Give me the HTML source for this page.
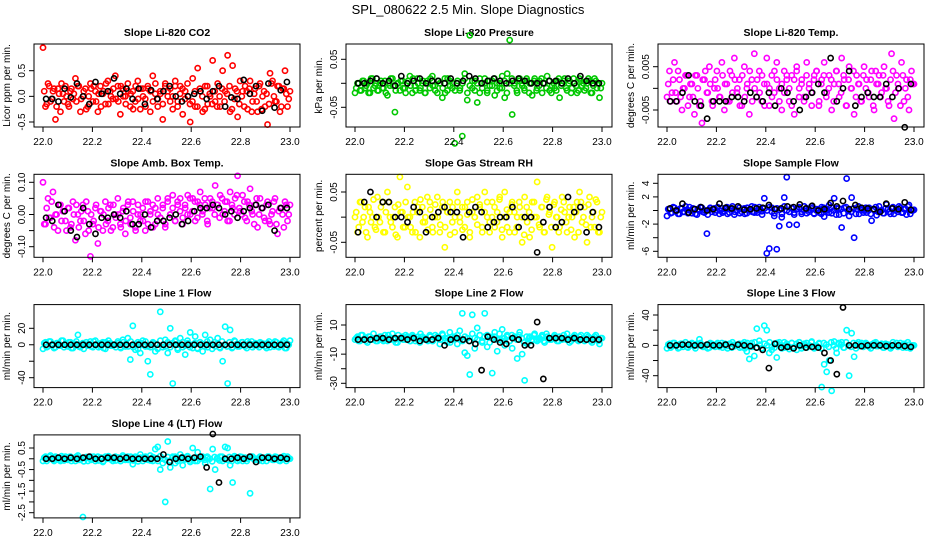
<!DOCTYPE html>
<html><head><meta charset="utf-8"><style>
html,body{margin:0;padding:0;background:#fff;}
svg{display:block;font-family:"Liberation Sans",sans-serif;}
</style></head><body>
<svg id="chart" width="936" height="540" viewBox="0 0 936 540">
<text x="468" y="14" text-anchor="middle" font-size="13">SPL_080622  2.5 Min. Slope Diagnostics</text>
</svg>
<script>
const xTicks = [22.0, 22.2, 22.4, 22.6, 22.8, 23.0];
const xTickLabels = ["22.0","22.2","22.4","22.6","22.8","23.0"];

const co2Color = [0.95,-0.2,0.25,-0.1,0.1,-0.45,0.15,-0.3,0.05,0.2,
-0.15,0.1,-0.05,0.35,0.2,-0.3,0.0,0.15,-0.2,0.25,
-0.1,0.1,-0.3,0.2,0.05,-0.15,0.3,0.1,-0.05,0.4,
0.2,-0.35,0.15,0.0,0.25,-0.2,0.1,-0.1,0.3,-0.25,
0.15,-0.05,0.2,-0.3,0.4,0.05,-0.2,0.1,-0.45,0.25,
0.0,0.15,-0.25,0.3,-0.1,0.2,-0.35,0.1,0.0,-0.5,
0.35,-0.2,0.55,0.1,-0.3,0.2,-0.15,0.0,0.7,-0.1,
0.25,-0.2,0.5,0.1,0.8,-0.3,0.6,0.15,-0.4,0.3,
0.1,0.2,-0.25,0.3,-0.1,0.15,-0.3,0.25,0.0,-0.2,
-0.55,0.45,0.3,-0.1,0.2,-0.3,0.15,0.5,-0.2,0.1];
const co2Core = [0.1,-0.15,0.2,-0.05,0.15,-0.2,0.05,0.25,-0.1,0.0,-0.2,0.15,0.05,-0.1,0.2,-0.05,0.1,-0.25,0.0,0.15,0.2,-0.1,0.05,-0.2,0.1,0.25,-0.15,0.0,0.15,-0.05,-0.1,0.2,0.0,-0.15,0.1,0.05,-0.25,0.2,-0.05,0.15,0.0,-0.2,0.15,0.1,-0.1,0.25,-0.05,0.05,-0.15,0.2,0.1,-0.1,0.0,0.2,-0.2,0.05,0.15,-0.05,0.25,-0.15,-0.1,0.1,-0.2,0.15,0.0,-0.25,0.2,0.05,-0.15,0.1,-0.2,0.0,0.15,-0.1,0.05,0.2,-0.25,-0.05,0.1,-0.15,0.0,-0.2,0.1,0.15,-0.3,0.05,-0.1,0.2,-0.25,0.1,0.05,-0.15,0.25,0.0,-0.1,0.2,-0.2,0.15,0.05,-0.05];
const co2Black = [-0.05,-0.05,-0.1,0.15,-0.02,0.25,0.0,-0.15,0.28,0.05,0.1,0.35,0.05,0.15,-0.05,0.15,-0.15,0.12,-0.05,0.1,0.2,0.0,-0.1,0.0,0.05,0.1,-0.05,0.1,0.2,-0.2,-0.02,-0.05,0.32,0.05,0.2,-0.28,0.25,-0.22,0.12,0.28];

const pressColor = [-0.02,0.0,-0.015,0.005,-0.01,0.0,-0.02,0.01,-0.005,-0.015,
0.0,-0.01,0.005,-0.025,-0.005,0.01,-0.06,0.0,-0.015,0.005,
-0.01,0.0,0.015,-0.02,-0.005,0.01,-0.015,0.0,-0.02,0.005,
-0.01,0.015,-0.005,-0.02,0.0,-0.03,0.01,-0.015,0.005,-0.01,
-0.125,0.0,-0.015,-0.11,0.02,-0.035,0.1,-0.01,0.005,-0.04,
-0.02,0.0,0.01,-0.015,-0.005,0.005,-0.025,0.0,-0.01,0.015,
-0.03,0.02,0.09,-0.065,0.0,-0.02,0.01,-0.005,-0.015,0.005,
0.0,-0.025,0.01,-0.01,0.005,-0.02,0.0,0.015,-0.015,-0.005,
-0.01,0.005,-0.03,0.0,0.01,-0.015,0.005,-0.01,0.0,-0.02,
0.01,-0.005,-0.015,0.0,0.005,-0.02,0.01,-0.01,-0.03,0.0];
const pressCore = [-0.01,0.0,-0.015,0.005,-0.005,-0.02,0.01,-0.01,0.0,-0.015,0.005,-0.01,-0.02,0.0,0.01,-0.005,-0.015,0.0,0.005,-0.01,-0.02,0.005,-0.005,0.01,-0.015,0.0,-0.01,0.005,-0.02,0.0,0.01,-0.005,-0.015,0.005,0.0,-0.01,-0.02,0.01,-0.005,0.0,-0.015,0.005,-0.01,0.0,0.01,-0.02,-0.005,0.005,-0.015,0.0,0.01,-0.01,0.0,-0.02,0.005,-0.005,0.01,-0.015,0.0,-0.01,0.005,-0.02,0.0,0.01,-0.005,-0.015,0.005,0.0,-0.01,0.01,-0.02,0.0,0.005,-0.015,-0.005,0.01,0.0,-0.01,0.005,-0.02,0.0,-0.015,0.01,-0.005,0.005,-0.01,0.0,-0.02,0.01,-0.005,-0.015,0.005,0.0,-0.01,0.01,-0.02,-0.005,0.005,0.0,-0.01];
const pressBlack = [0.0,0.0,0.005,0.01,0.0,0.005,-0.005,0.015,0.0,0.005,0.01,0.0,0.005,0.005,0.0,0.01,0.0,0.005,0.015,0.01,0.0,0.005,0.01,0.005,0.0,0.005,0.01,0.005,0.0,0.0,0.0,0.005,0.005,0.0,0.01,0.0,0.015,0.005,0.0,0.0];

const tempColor = [-0.002,0.004,-0.001,0.006,-0.003,0.002,-0.005,0.0,0.003,-0.002,
0.001,-0.006,0.003,-0.004,-0.008,0.002,-0.001,0.005,-0.003,0.0,
0.004,-0.002,0.006,-0.005,0.001,-0.003,0.003,0.007,-0.001,0.002,
-0.004,0.005,0.0,-0.006,0.002,0.008,-0.002,0.004,-0.003,0.001,
0.007,-0.004,0.003,-0.001,0.006,0.0,-0.005,0.004,0.002,-0.003,
0.003,-0.006,0.005,0.0,0.002,-0.002,0.006,0.001,-0.004,0.003,
0.004,-0.003,0.002,0.006,-0.001,0.003,-0.005,0.001,0.004,-0.002,
0.007,0.002,-0.004,0.005,0.0,-0.006,0.003,0.001,-0.003,0.005,
0.002,-0.002,0.004,-0.005,0.001,0.003,-0.001,0.005,0.0,-0.004,
0.008,-0.007,0.003,0.0,0.006,-0.003,0.002,-0.005,0.004,0.001];
const tempCore = [0.001,-0.003,0.002,-0.001,0.004,-0.002,0.0,0.003,-0.004,0.001,-0.002,0.003,0.0,-0.003,0.002,0.004,-0.001,0.001,-0.004,0.002,0.0,-0.002,0.003,0.001,-0.003,0.004,-0.001,0.002,0.0,-0.004,0.003,-0.002,0.001,0.004,-0.003,0.0,0.002,-0.001,0.003,-0.004,0.001,0.0,-0.002,0.004,0.002,-0.003,0.001,-0.001,0.003,0.0,-0.004,0.002,0.004,-0.002,0.001,-0.003,0.003,0.0,-0.001,0.002,0.004,-0.004,0.001,0.003,-0.002,0.0,0.002,-0.003,0.004,0.001,-0.001,0.003,-0.004,0.002,0.0,0.004,-0.002,0.001,-0.003,0.003,0.0,-0.001,0.002,-0.004,0.004,0.001,-0.002,0.003,0.0,-0.003,0.002,0.004,-0.001,0.001,-0.004,0.003,0.0,-0.002,0.002,0.001];
const tempBlack = [-0.003,-0.003,-0.001,0.003,-0.003,-0.004,-0.007,-0.003,-0.003,-0.003,-0.002,-0.002,-0.003,-0.001,-0.002,-0.003,-0.001,-0.004,0.0,-0.001,-0.003,-0.005,-0.002,-0.001,0.001,-0.001,0.007,-0.003,0.0,0.004,-0.004,-0.002,-0.001,-0.002,-0.002,0.001,-0.002,0.0,-0.009,0.001];

const ambColor = [0.1,-0.03,0.05,-0.01,0.07,0.0,-0.05,0.03,0.01,-0.02,
0.02,-0.04,0.04,-0.08,0.0,-0.02,0.03,-0.06,0.01,-0.13,
-0.03,0.02,-0.09,0.01,-0.05,0.04,-0.02,0.03,-0.04,0.0,
0.05,-0.03,0.01,-0.06,0.03,-0.01,0.04,-0.04,0.0,-0.02,
0.02,-0.05,0.04,0.0,0.03,-0.03,0.05,-0.01,0.02,-0.04,
0.04,0.0,0.06,-0.02,0.03,0.05,-0.01,0.02,0.06,0.0,
0.05,-0.02,0.04,0.07,0.01,0.03,-0.03,0.05,0.02,0.09,
0.03,0.06,0.0,0.04,-0.02,0.07,0.02,0.05,0.12,0.01,
0.06,-0.01,0.04,0.08,0.0,0.03,-0.04,0.05,0.02,-0.02,
0.04,-0.03,0.01,0.05,-0.06,0.02,0.0,0.04,-0.02,0.03];
const ambCore = [-0.03,0.02,-0.01,0.04,-0.04,0.0,0.03,-0.02,0.01,-0.05,0.02,-0.03,0.0,0.03,-0.04,0.01,-0.02,0.04,-0.05,0.0,-0.02,0.03,-0.04,0.01,0.0,-0.03,0.02,-0.05,0.03,-0.01,0.0,-0.04,0.02,-0.02,0.04,-0.03,0.01,-0.05,0.03,0.0,-0.02,0.04,-0.03,0.01,-0.04,0.02,0.0,-0.01,0.03,-0.03,0.05,0.0,0.02,-0.02,0.04,0.01,-0.03,0.03,0.0,0.05,0.01,0.04,-0.01,0.03,0.0,0.05,-0.02,0.02,0.04,0.0,0.03,-0.01,0.05,0.01,0.04,-0.02,0.03,0.0,0.06,0.02,0.0,0.04,-0.02,0.03,0.01,-0.03,0.05,0.0,0.02,-0.01,0.03,-0.02,0.0,0.04,-0.03,0.01,0.02,-0.04,0.03,0.0];
const ambBlack = [-0.01,-0.02,0.03,0.01,-0.05,-0.07,0.02,-0.03,-0.06,-0.01,-0.01,0.0,-0.01,0.01,-0.03,-0.03,0.0,-0.04,-0.02,-0.02,-0.01,0.0,-0.03,-0.02,0.01,0.02,0.02,0.03,0.02,0.0,0.01,-0.01,0.01,0.02,0.03,0.02,0.03,-0.05,0.02,0.02];

const rhColor = [0.0,-0.03,0.03,-0.01,0.02,-0.04,0.01,0.0,-0.02,0.04,
-0.01,0.03,-0.03,0.05,0.0,-0.02,0.02,-0.04,0.08,0.01,
-0.02,0.06,0.0,-0.03,0.03,0.01,-0.04,0.02,-0.01,0.04,
0.03,-0.02,0.0,0.04,-0.03,0.02,-0.06,0.01,0.03,-0.01,
-0.03,0.05,0.0,0.02,-0.02,0.03,-0.04,0.01,0.0,0.04,
0.02,-0.03,0.05,0.0,-0.01,0.03,-0.02,0.01,0.04,-0.04,
0.05,-0.02,0.01,0.03,-0.03,0.0,0.02,-0.05,0.04,-0.01,
-0.04,0.03,0.0,0.07,-0.02,0.02,-0.03,0.04,0.01,-0.06,
0.03,0.0,-0.02,0.04,0.01,-0.03,0.02,0.0,-0.04,0.03,
0.05,-0.01,0.02,-0.05,0.04,0.0,-0.02,0.03,-0.03,0.01];
const rhCore = [0.01,-0.02,0.03,0.0,-0.03,0.02,-0.01,0.035,-0.025,0.0,0.02,-0.03,0.01,0.03,-0.01,0.0,-0.035,0.025,0.01,-0.02,0.03,0.0,-0.02,0.01,-0.03,0.02,0.035,-0.01,0.0,-0.025,0.015,-0.03,0.025,0.0,-0.015,0.03,-0.02,0.01,-0.035,0.02,0.0,0.03,-0.01,-0.025,0.02,0.005,-0.03,0.035,0.0,-0.015,0.025,-0.02,0.01,0.03,-0.03,0.0,0.02,-0.01,0.035,-0.025,0.0,0.015,-0.03,0.025,0.01,-0.02,0.03,0.0,-0.035,0.02,0.01,-0.025,0.03,0.0,-0.015,0.02,-0.03,0.035,0.005,-0.02,0.025,0.0,-0.03,0.015,0.03,-0.01,0.0,-0.025,0.02,0.01,-0.03,0.03,0.0,-0.015,0.025,-0.02,0.01,0.035,-0.03,0.0];
const rhBlack = [-0.03,0.03,0.05,0.0,0.03,0.03,0.0,0.0,-0.01,0.02,0.01,-0.03,0.0,0.01,0.02,0.01,0.01,-0.04,0.01,0.02,0.01,-0.02,-0.01,0.0,0.0,0.02,-0.02,0.0,0.0,-0.07,-0.01,0.02,-0.02,-0.01,0.04,0.01,0.02,-0.03,0.01,-0.02];

const sampleColor = [-0.8,0.2,-0.3,0.4,0.0,-0.5,0.3,-0.2,0.1,0.5,
-0.4,0.2,-0.6,0.0,0.4,-0.3,-3.4,0.1,-0.2,0.3,
0.0,-0.5,0.3,-0.1,0.5,-0.3,0.2,-0.6,0.0,0.4,
-0.2,0.3,-0.4,0.1,0.6,-0.3,0.0,0.5,-0.1,1.8,
-6.3,-5.6,0.4,-0.8,-5.7,-2.3,-1.0,1.9,4.9,-2.1,
0.3,-0.6,-2.1,0.4,-0.2,0.6,-0.4,0.1,0.3,-0.5,
0.2,-0.3,0.5,-0.9,0.0,0.8,-0.4,1.8,0.3,-0.6,
-2.5,0.4,4.7,-0.8,1.9,-4.0,0.2,-0.5,0.3,0.0,
-0.3,0.4,-1.5,0.1,-0.7,0.6,0.0,-0.4,0.9,-0.2,
0.3,-0.5,0.1,0.6,-0.3,0.2,-0.6,0.8,0.0,0.1];
const sampleCore = [0.2,-0.4,0.5,0.0,-0.5,0.3,-0.2,0.6,-0.4,0.0,0.3,-0.5,0.2,0.5,-0.2,0.0,-0.6,0.4,0.2,-0.3,0.5,0.0,-0.3,0.2,-0.5,0.3,0.6,-0.2,0.0,-0.4,0.2,-0.5,0.4,0.0,-0.2,0.5,-0.3,0.2,-0.6,0.3,0.0,0.5,-0.2,-0.4,0.3,0.1,-0.5,0.6,0.0,-0.2,0.4,-0.3,0.2,0.5,-0.5,0.0,0.3,-0.2,0.6,-0.4,0.0,0.2,-0.5,0.4,0.2,-0.3,0.5,0.0,-0.6,0.3,0.2,-0.4,0.5,0.0,-0.2,0.3,-0.5,0.6,0.1,-0.3,0.4,0.0,-0.5,0.2,0.5,-0.2,0.0,-0.4,0.3,0.2,-0.5,0.5,0.0,-0.2,0.4,-0.3,0.2,0.6,-0.5,0.0];
const sampleBlack = [0.3,0.0,1.0,-0.3,0.2,0.5,0.0,0.2,1.0,0.4,0.3,0.6,0.1,0.2,0.3,0.4,0.8,0.2,0.3,0.6,0.5,0.9,0.3,0.7,0.0,0.2,1.1,0.6,1.4,0.2,0.8,0.4,0.3,0.2,-0.2,1.0,0.3,0.2,1.2,0.1];

const line1Color = [-5,3,-2,4,0,-3,2,-1,5,0,
-2,3,-4,1,12,-3,2,0,-1,4,
-3,5,0,-2,3,-5,1,2,-1,0,
4,-3,6,-2,8,-18,23,-6,3,-10,
5,-2,-20,-36,2,-8,-5,40,-3,6,
-10,20,-47,5,-6,8,-3,-12,2,15,
-4,10,-5,3,-8,12,-3,6,0,-2,
8,-4,-20,22,-47,18,-3,4,-2,0,
3,-2,4,0,-3,2,-1,3,0,-2,
2,-3,1,4,-2,0,3,-4,1,5];
const line1Core = [2,-3,4,0,-4,2,-1,5,-3,0,3,-4,1,4,-2,0,-5,3,1,-2,4,0,-3,2,-4,3,5,-1,0,-3,2,-4,3,0,-2,4,-3,1,-5,2,0,4,-2,-3,3,1,-4,5,0,-2,3,-3,2,4,-4,0,3,-1,5,-3,0,2,-4,3,1,-2,4,0,-5,3,1,-3,4,0,-2,3,-4,5,1,-2,3,0,-4,2,4,-1,0,-3,2,1,-4,4,0,-2,3,-3,1,5,-4,0];
const line1Black = [0,0,0,0,0,0,0,0,0,0,0,0,0,0,0,0,0,0,0,0,0,0,0,0,0,0,0,0,0,0,0,0,0,0,0,0,0,0,0,0];

const line2Color = [0,2,-1,3,1,-2,2,0,1,-1,
2,0,3,-1,1,4,0,-2,1,2,
0,2,-1,3,1,0,-2,2,1,0,
3,-1,1,2,-3,4,1,-2,5,0,
2,-3,6,18,-9,-11,-24,17,-6,8,
3,-2,18,-5,2,-23,5,-8,0,7,
-4,3,-1,-6,2,-13,5,-10,-28,-3,
2,0,4,-1,1,3,-2,2,0,1,
3,-1,2,0,1,4,-2,1,3,0,
2,0,-1,3,1,-2,2,0,-3,1];
const line2Core = [1,-1,3,0,-1,2,0,4,-1,1,2,-1,1,3,0,1,-2,3,1,0,3,1,-1,2,-1,2,4,0,1,-1,2,-1,3,1,0,3,-1,1,-2,2,1,3,0,-1,2,1,-1,4,1,0,3,-1,2,3,-2,1,2,0,4,-1,1,2,-1,3,1,0,3,1,-2,2,1,-1,3,0,0,2,-1,4,1,0,2,1,-1,1,3,0,1,-1,2,1,-1,3,1,0,2,-1,1,3,-1,1];
const line2Black = [0,0,0,1,1,0,1,1,0,1,-1,0,0,1,-4,0,1,0,-1,-3,-21,2,0,-2,-3,1,0,-4,-4,12,-27,1,1,1,0,1,0,0,0,0];

const line3Color = [-4,2,-1,3,0,-3,2,1,-2,0,
3,-1,2,8,0,-2,1,-3,2,0,
1,-2,3,0,-1,2,-3,1,0,2,
-2,4,-8,-18,3,-14,22,6,-4,26,
20,-10,-6,2,-16,4,0,-3,2,-5,
3,-2,-6,4,-1,2,-3,0,5,-4,
-2,3,-55,-25,-35,-20,-60,5,-10,2,
4,-3,20,-40,16,-15,2,-1,3,0,
2,-2,1,3,-1,0,2,-3,1,0,
-2,1,3,-1,0,2,-3,1,-1,0];
const line3Core = [1,-3,3,0,-4,2,-2,4,-3,0,2,-4,1,3,-2,0,-4,3,1,-2,3,0,-3,2,-4,2,4,-1,0,-3,2,-4,3,0,-2,4,-3,1,-4,2,0,4,-2,-3,3,1,-4,4,0,-2,3,-3,2,4,-4,0,3,-1,4,-3,0,2,-4,3,1,-2,4,0,-4,3,1,-3,4,0,-2,3,-4,4,1,-2,3,0,-4,2,4,-1,0,-3,2,1,-4,4,0,-2,3,-3,1,4,-4,0];
const line3Black = [0,0,1,1,0,0,1,0,0,1,-2,1,0,-1,-3,-6,-30,2,-3,-2,-4,0,-3,-2,-3,-10,-20,-38,50,0,0,-1,0,0,0,-1,0,0,-1,-2];

const line4Color = [-0.1,0.1,0.0,0.15,-0.05,0.1,0.0,-0.1,0.05,0.1,
-0.05,0.1,0.0,-0.1,0.15,-0.05,-2.7,0.05,-0.1,0.1,
0.0,-0.1,0.1,0.05,-0.15,0.1,0.0,0.05,-0.1,0.1,
0.05,-0.1,0.15,-0.05,0.1,0.0,-0.25,0.1,0.0,0.2,
-0.1,0.05,0.0,0.15,-0.1,0.45,0.55,-0.5,-0.2,-2.0,
0.8,-0.4,0.1,-0.2,0.05,0.2,-0.3,0.0,0.1,-0.15,
0.5,-0.1,0.3,0.0,0.1,-0.2,0.05,-1.4,0.45,-0.5,
0.0,0.1,-0.1,0.55,0.5,-0.3,-1.1,0.05,-0.1,0.1,
-0.1,0.05,0.0,-1.6,0.1,-0.05,0.0,0.1,-0.1,0.05,
0.1,0.0,-0.05,0.1,0.0,-0.1,0.05,0.0,0.1,0.0];
const line4Core = [0.05,-0.1,0.1,0.0,-0.1,0.05,-0.05,0.12,-0.08,0.0,0.08,-0.1,0.03,0.1,-0.05,0.0,-0.12,0.08,0.03,-0.05,0.1,0.0,-0.08,0.05,-0.1,0.06,0.12,-0.03,0.0,-0.08,0.05,-0.1,0.08,0.0,-0.05,0.1,-0.08,0.03,-0.12,0.05,0.0,0.1,-0.05,-0.08,0.08,0.03,-0.1,0.12,0.0,-0.05,0.08,-0.08,0.05,0.1,-0.1,0.0,0.08,-0.03,0.12,-0.08,0.0,0.05,-0.1,0.08,0.03,-0.05,0.1,0.0,-0.12,0.08,0.03,-0.08,0.1,0.0,-0.05,0.08,-0.1,0.12,0.03,-0.05,0.08,0.0,-0.1,0.05,0.1,-0.03,0.0,-0.08,0.05,0.03,-0.1,0.1,0.0,-0.05,0.08,-0.08,0.03,0.12,-0.1,0.0];
const line4Black = [0.0,0.0,0.05,0.0,0.05,0.0,0.05,0.1,0.0,0.0,0.05,0.05,0.0,0.05,0.0,0.0,0.0,0.0,0.0,0.2,-0.15,0.0,0.05,0.0,0.05,0.1,-0.4,1.15,-1.1,0.0,0.0,0.05,0.0,0.1,-0.15,0.05,0.05,0.0,0.05,0.0];

const co2Ticks=[-0.5,0,0.5], co2Labels=["-0.5","0.0","0.5"];
const pressTicks=[-0.05,0,0.05], pressLabels=["-0.05","","0.05"];
const tempTicks=[-0.005,0,0.005], tempLabels=["-0.005","","0.005"];
const ambTicks=[-0.1,-0.05,0,0.05,0.1], ambLabels=["-0.10","","0.00","","0.10"];
const rhTicks=[-0.05,0,0.05], rhLabels=["-0.05","","0.05"];
const sampleTicks=[-6,-4,-2,0,2,4], sampleLabels=["-6","","-2","","2","4"];
const line1Ticks=[-40,-20,0,20], line1Labels=["-40","","0","20"];
const line2Ticks=[-30,-20,-10,0,10], line2Labels=["-30","","-10","","10"];
const line3Ticks=[-40,-20,0,20,40], line3Labels=["-40","","0","","40"];
const line4Ticks=[-2.5,-2,-1.5,-1,-0.5,0,0.5], line4Labels=["-2.5","","-1.5","","-0.5","","0.5"];

const NS="http://www.w3.org/2000/svg";
const svg=document.getElementById('chart');
function mk(tag,attrs,parent){const e=document.createElementNS(NS,tag);for(const k in attrs)e.setAttribute(k,attrs[k]);(parent||svg).appendChild(e);return e;}

function panel(cfg){
  const L=34+cfg.col*312, R=L+266, T=44+cfg.row*130.3, B=T+83;
  const x0=L+9, x1=L+256;
  const xs=v=>x0+(v-22)*(x1-x0);
  const ys=v=>cfg.py1+(v-cfg.v1)*(cfg.py2-cfg.py1)/(cfg.v2-cfg.v1);
  const g=mk('g',{});
  
  
  const t=mk('text',{x:(L+R)/2,y:T-8,'text-anchor':'middle','font-size':10.5,'font-weight':'bold'},g);
  t.textContent=cfg.title;
  
  
  const pts=mk('g',{fill:'none','stroke-width':1.6},g);
  
  
  const k=cfg.core.length;
  cfg.core.forEach((v,i)=>{
    const c=mk('circle',{cx:xs(22.005+i*(0.99/(k-1))),cy:ys(v),r:2.6,stroke:cfg.fill},pts);
    
    
  });
  const n=cfg.color.length;
  cfg.color.forEach((v,i)=>{
    const c=mk('circle',{cx:xs(22+i*(1/(n-1))),cy:ys(v),r:2.6,stroke:cfg.fill},pts);
    
    
  });
  const m=cfg.black.length;
  cfg.black.forEach((v,i)=>{
    const c=mk('circle',{cx:xs(22.0125+i*(0.975/(m-1))),cy:ys(v),r:2.6,stroke:'#000'},pts);
    
    
  });
  const box=mk('rect',{x:L,y:T,width:R-L,height:B-T,fill:'none',stroke:'#000','stroke-width':1},g);
  
  
  xTicks.forEach((v,i)=>{
    mk('line',{x1:xs(v),x2:xs(v),y1:B,y2:B+5,stroke:'#000'},g);
    const l=mk('text',{x:xs(v),y:B+18,'text-anchor':'middle','font-size':10},g);
    l.textContent=xTickLabels[i];
    
    
  });
  cfg.ticks.forEach((v,i)=>{
    const y=ys(v);
    mk('line',{x1:L-5,x2:L,y1:y,y2:y,stroke:'#000'},g);
    if(cfg.labels[i]){
      const l=mk('text',{x:L-9,y:y,'text-anchor':'middle','font-size':10,transform:`rotate(-90 ${L-9} ${y})`},g);
      l.textContent=cfg.labels[i];
      
      
    }
  });
  const yl=mk('text',{x:L-24,y:(T+B)/2,'text-anchor':'middle','font-size':10,transform:`rotate(-90 ${L-24} ${(T+B)/2})`},g);
  yl.textContent=cfg.ylab;
  
  
}

panel({name:'panel-co2',title:'Slope Li-820 CO2',ylab:'Licor ppm per min.',col:0,row:0,fill:'#ff0000',color:co2Color,core:co2Core,black:co2Black,ticks:co2Ticks,labels:co2Labels,v1:0.5,py1:70.7,v2:-0.5,py2:122});
panel({name:'panel-pressure',title:'Slope Li-820 Pressure',ylab:'kPa per min.',col:1,row:0,fill:'#00c800',color:pressColor,core:pressCore,black:pressBlack,ticks:pressTicks,labels:pressLabels,v1:0.05,py1:59.3,v2:-0.05,py2:107.3});
panel({name:'panel-temp',title:'Slope Li-820 Temp.',ylab:'degrees C per min.',col:2,row:0,fill:'#ff00ff',color:tempColor,core:tempCore,black:tempBlack,ticks:tempTicks,labels:tempLabels,v1:0.005,py1:66.7,v2:-0.005,py2:110});
panel({name:'panel-amb-box-temp',title:'Slope Amb. Box Temp.',ylab:'degrees C per min.',col:0,row:1,fill:'#ff00ff',color:ambColor,core:ambCore,black:ambBlack,ticks:ambTicks,labels:ambLabels,v1:0.1,py1:182.3,v2:-0.1,py2:246.7});
panel({name:'panel-gas-rh',title:'Slope Gas Stream RH',ylab:'percent per min.',col:1,row:1,fill:'#ffff00',color:rhColor,core:rhCore,black:rhBlack,ticks:rhTicks,labels:rhLabels,v1:0.05,py1:192,v2:-0.05,py2:242.3});
panel({name:'panel-sample-flow',title:'Slope Sample Flow',ylab:'ml/min per min.',col:2,row:1,fill:'#0000ff',color:sampleColor,core:sampleCore,black:sampleBlack,ticks:sampleTicks,labels:sampleLabels,v1:4,py1:183.3,v2:-6,py2:251.3});
panel({name:'panel-line1-flow',title:'Slope Line 1 Flow',ylab:'ml/min per min.',col:0,row:2,fill:'#00ffff',color:line1Color,core:line1Core,black:line1Black,ticks:line1Ticks,labels:line1Labels,v1:20,py1:328.3,v2:-40,py2:377.7});
panel({name:'panel-line2-flow',title:'Slope Line 2 Flow',ylab:'ml/min per min.',col:1,row:2,fill:'#00ffff',color:line2Color,core:line2Core,black:line2Black,ticks:line2Ticks,labels:line2Labels,v1:10,py1:325,v2:-30,py2:383.3});
panel({name:'panel-line3-flow',title:'Slope Line 3 Flow',ylab:'ml/min per min.',col:2,row:2,fill:'#00ffff',color:line3Color,core:line3Core,black:line3Black,ticks:line3Ticks,labels:line3Labels,v1:40,py1:315,v2:-40,py2:375.7});
panel({name:'panel-line4-flow',title:'Slope Line 4 (LT) Flow',ylab:'ml/min per min.',col:0,row:3,fill:'#00ffff',color:line4Color,core:line4Core,black:line4Black,ticks:line4Ticks,labels:line4Labels,v1:0.5,py1:448,v2:-2.5,py2:512.7});
</script>
</body></html>
